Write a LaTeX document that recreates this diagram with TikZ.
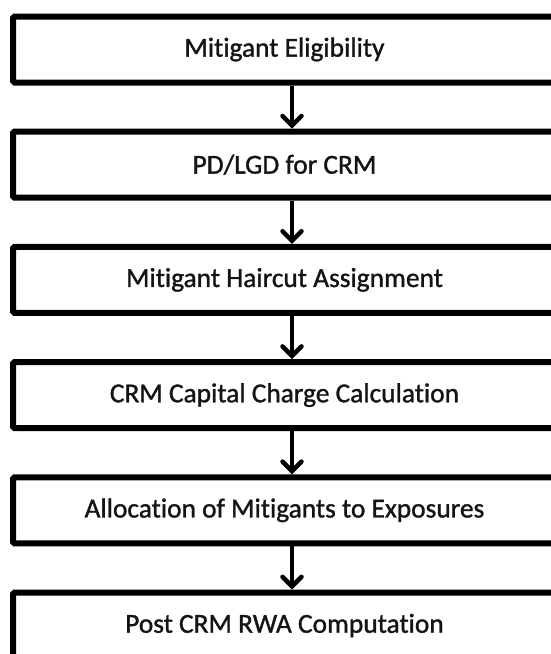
\documentclass[tikz,border=0pt]{standalone}
\usepackage{fontspec}
\setmainfont{Carlito}[Ligatures=NoCommon,FakeBold=1.2]
\usetikzlibrary{arrows.meta}
\begin{document}
\begin{tikzpicture}[x=1pt,y=-1pt,
  stepbox/.style={draw=black, line width=6pt, rounded corners=1.5pt, minimum width=543pt, minimum height=66pt, inner sep=0pt, font=\fontsize{27.4}{32}\selectfont, text=black!92},
  flowarrow/.style={line width=4.5pt, -{Straight Barb[length=9.5pt,width=19pt,line cap=round]}}]
\useasboundingbox (0,0) rectangle (551,654);
\node[stepbox] (b1) at (284.5,49.5) {Mitigant Eligibility};
\node[stepbox] (b2) at (284.5,164.7) {PD/LGD for CRM};
\node[stepbox] (b3) at (284.5,279.9) {Mitigant Haircut Assignment};
\node[stepbox] (b4) at (284.5,395.1) {CRM Capital Charge Calculation};
\node[stepbox] (b5) at (284.5,510.3) {Allocation of Mitigants to Exposures};
\node[stepbox] (b6) at (284.5,625.5) {Post CRM RWA Computation};
\coordinate (ax) at (292,0);
\draw[flowarrow] (b1.south -| ax) -- (b2.north -| ax);
\draw[flowarrow] (b2.south -| ax) -- (b3.north -| ax);
\draw[flowarrow] (b3.south -| ax) -- (b4.north -| ax);
\draw[flowarrow] (b4.south -| ax) -- (b5.north -| ax);
\draw[flowarrow] (b5.south -| ax) -- (b6.north -| ax);
\end{tikzpicture}
\end{document}
